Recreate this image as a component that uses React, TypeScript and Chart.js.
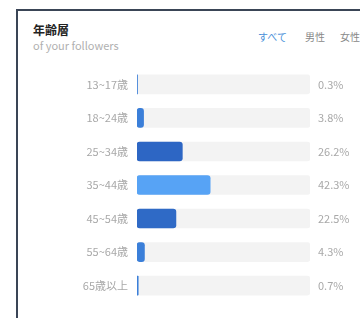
import React, { useEffect, useRef } from "react";
import { Chart, registerables } from "chart.js";
Chart.register(...registerables);

const categories = ["13~17歳", "18~24歳", "25~34歳", "35~44歳", "45~54歳", "55~64歳", "65歳以上"];
const percentValues = [0.3, 3.8, 26.2, 42.3, 22.5, 4.3, 0.7];
const valueLabels = ["0.3%", "3.8%", "26.2%", "42.3%", "22.5%", "4.3%", "0.7%"];
const trackValues = [100, 100, 100, 100, 100, 100, 100];
const barColors = ["#3b7fd9", "#3b7fd9", "#2d66c4", "#57a3f5", "#2f6ac6", "#3b7fd9", "#3b7fd9"];

const FONT = "'Noto Sans CJK JP', 'Noto Sans', sans-serif";

const rightLabels = {
  id: "rightLabels",
  afterDatasetsDraw(chart: any) {
    const { ctx, chartArea } = chart;
    const y = chart.scales.y;
    ctx.save();
    ctx.font = `11px ${FONT}`;
    ctx.fillStyle = "#a8a8a8";
    ctx.textAlign = "left";
    ctx.textBaseline = "middle";
    valueLabels.forEach((t, i) => {
      ctx.fillText(t, chartArea.right + 8, y.getPixelForValue(i));
    });
    ctx.restore();
  },
};

export default function App() {
  const ref = useRef<HTMLCanvasElement>(null);
  useEffect(() => {
    if (!ref.current) return;
    const chart = new Chart(ref.current, {
      type: "bar",
      data: {
        labels: categories,
        datasets: [
          {
            data: percentValues,
            backgroundColor: barColors,
            borderRadius: 3,
            borderSkipped: false,
            barThickness: 19,
            order: 0,
          },
          {
            data: trackValues,
            backgroundColor: "#f3f3f3",
            borderRadius: 3,
            borderSkipped: false,
            barThickness: 19,
            order: 1,
          },
        ],
      },
      options: {
        indexAxis: "y",
        animation: false,
        responsive: false,
        maintainAspectRatio: false,
        events: [],
        layout: { padding: { top: 0, bottom: 0, left: 0, right: 50 } },
        datasets: { bar: { grouped: false } } as any,
        plugins: { legend: { display: false }, tooltip: { enabled: false }, title: { display: false } },
        scales: {
          x: { display: false, min: 0, max: 100 },
          y: {
            grid: { display: false, drawTicks: false },
            border: { display: false },
            ticks: { color: "#a8a8a8", font: { size: 11, family: FONT }, padding: 9 },
            afterFit: (s: any) => {
              s.width = 137;
            },
          },
        },
      },
      plugins: [rightLabels],
    });
    return () => chart.destroy();
  }, []);

  return (
    <div style={{ position: "fixed", left: 0, top: 0, width: 360, height: 318, overflow: "hidden", background: "#fff", fontFamily: FONT }}>
      <div style={{ position: "absolute", left: 16, top: 9, width: 400, height: 400, borderLeft: "2px solid #3a4556", borderTop: "2px solid #3a4556" }} />
      <div style={{ position: "absolute", left: 33, top: 22, fontSize: 12, fontWeight: 700, color: "#222", lineHeight: "15px" }}>年齢層</div>
      <div style={{ position: "absolute", left: 33, top: 38, fontSize: 11, color: "#b0b0b0", lineHeight: "14px" }}>of your followers</div>
      <div style={{ position: "absolute", left: 258, top: 30, fontSize: 10, color: "#4a90d9", lineHeight: "14px" }}>すべて</div>
      <div style={{ position: "absolute", left: 305, top: 30, fontSize: 10, color: "#888", lineHeight: "14px" }}>男性</div>
      <div style={{ position: "absolute", left: 340, top: 30, fontSize: 10, color: "#888", lineHeight: "14px", whiteSpace: "nowrap" }}>女性</div>
      <canvas ref={ref} width={360} height={266} style={{ position: "absolute", left: 0, top: 52, width: 360, height: 266 }} />
    </div>
  );
}
